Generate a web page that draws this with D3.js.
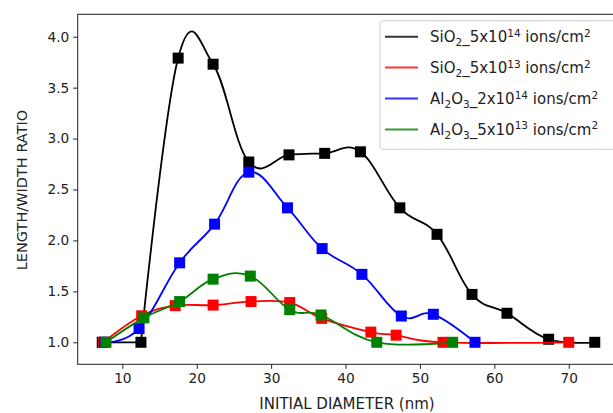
<!DOCTYPE html>
<html>
<head>
<meta charset="utf-8">
<script src="https://cdn.jsdelivr.net/npm/d3@7"></script>
<style>
  body { margin: 0; background: #fff; }
  svg { display: block; font-family: "DejaVu Sans", sans-serif; }
</style>
</head>
<body>
<svg id="chart"></svg>
<script>
//////////////// Daten ////////////////////
const blackX = [7.3, 12.5, 17.5, 22.2, 27.0, 32.4, 37.2, 42.0, 47.3, 52.3, 57.0, 61.7, 67.3, 73.5];
const blackY = [1.0, 1.0, 3.79, 3.73, 2.77, 2.84, 2.855, 2.87, 2.32, 2.06, 1.47, 1.285, 1.03, 1.0];

const redX = [7.45, 12.6, 17.1, 22.2, 27.3, 32.5, 36.8, 43.4, 46.8, 53.1, 70.0];
const redY = [1.0, 1.26, 1.36, 1.365, 1.40, 1.39, 1.235, 1.10, 1.07, 1.0, 1.0];

const blueX = [7.6, 12.25, 17.7, 22.4, 27.0, 32.2, 36.85, 42.2, 47.5, 51.8, 57.4];
const blueY = [1.0, 1.135, 1.78, 2.16, 2.67, 2.32, 1.92, 1.667, 1.258, 1.275, 1.0];

const greenX = [7.8, 12.9, 17.7, 22.2, 27.2, 32.5, 36.7, 44.2, 54.4];
const greenY = [1.0, 1.24, 1.40, 1.62, 1.65, 1.32, 1.268, 1.0, 1.0];

const xTicks = [10, 20, 30, 40, 50, 60, 70];
const yTicks = [1.0, 1.5, 2.0, 2.5, 3.0, 3.5, 4.0];

// Legende: [text, 0 normal / -1 tief / 1 hoch]
const legendParts = [
  [["SiO", 0], ["2", -1], ["_5x10", 0], ["14", 1], [" ions/cm", 0], ["2", 1]],
  [["SiO", 0], ["2", -1], ["_5x10", 0], ["13", 1], [" ions/cm", 0], ["2", 1]],
  [["Al", 0], ["2", -1], ["O", 0], ["3", -1], ["_2x10", 0], ["14", 1], [" ions/cm", 0], ["2", 1]],
  [["Al", 0], ["2", -1], ["O", 0], ["3", -1], ["_5x10", 0], ["13", 1], [" ions/cm", 0], ["2", 1]]
];

// straightStart: erster Abschnitt gerade (schwarze Kurve)
const series = [
  {xs: blackX, ys: blackY, farbe: "#000000", straightStart: true},
  {xs: redX, ys: redY, farbe: "#ff0000"},
  {xs: blueX, ys: blueY, farbe: "#0000ff"},
  {xs: greenX, ys: greenY, farbe: "#008000"}
];

//////////////// Konstanten ////////////////////
const W = 613, H = 413;
const plot = {left: 77.7, top: 14.3, bottom: 364.3, right: 620.8};
const markerSize = 11;
const textColor = "#222";

const svg = d3.select("#chart").attr("width", W).attr("height", H);

////////////////// Scaling ////////////
const x = d3.scaleLinear().domain([4.0, 77.0]).range([plot.left, plot.right]);
const y = d3.scaleLinear().domain([0.784, 4.22]).range([plot.bottom, plot.top]);

////////////////// Achsen ////////////
svg.append("g")
  .attr("transform", "translate(0," + plot.bottom + ")")
  .call(d3.axisBottom(x).tickValues(xTicks).tickSize(4.5).tickPadding(4).tickFormat(d3.format("d")))
  .call(g => g.select(".domain").remove());
svg.append("g")
  .attr("transform", "translate(" + plot.left + ",0)")
  .call(d3.axisLeft(y).tickValues(yTicks).tickSize(4.5).tickPadding(4).tickFormat(d3.format(".1f")))
  .call(g => g.select(".domain").remove());

svg.selectAll(".tick text").attr("font-size", 13.7).attr("fill", textColor).attr("font-family", "DejaVu Sans");
svg.selectAll(".tick line").attr("stroke", textColor).attr("stroke-width", 1);

// Rahmen
svg.append("rect")
  .attr("x", plot.left).attr("y", plot.top)
  .attr("width", plot.right - plot.left).attr("height", plot.bottom - plot.top)
  .attr("fill", "none").attr("stroke", textColor).attr("stroke-width", 1);

// Beschriftungen
svg.append("text")
  .attr("x", 347).attr("y", 409)
  .attr("text-anchor", "middle").attr("font-size", 15).attr("fill", textColor)
  .text("INITIAL DIAMETER (nm)");
svg.append("text")
  .attr("transform", "translate(27,190) rotate(-90)")
  .attr("text-anchor", "middle").attr("font-size", 14.5).attr("fill", textColor)
  .text("LENGTH/WIDTH RATIO");

//////////////// Linien + Marker ///////////////
const linie = d3.line()
  .x(d => x(d[0])).y(d => y(d[1]))
  .curve(d3.curveCardinal.tension(-0.15));
const gerade = d3.line()
  .x(d => x(d[0])).y(d => y(d[1]));

const plotArea = svg.append("g");
series.forEach(function(s) {
  const pts = s.xs.map((v, i) => [v, s.ys[i]]);
  let kurve = pts;
  if (s.straightStart) {
    plotArea.append("path")
      .attr("d", gerade(pts.slice(0, 2)))
      .attr("fill", "none").attr("stroke", s.farbe).attr("stroke-width", 1.8);
    kurve = pts.slice(1);
  }
  plotArea.append("path")
    .attr("d", linie(kurve))
    .attr("fill", "none")
    .attr("stroke", s.farbe)
    .attr("stroke-width", 1.8);
  plotArea.selectAll(null)
    .data(pts)
    .enter()
    .append("rect")
    .attr("x", d => x(d[0]) - markerSize / 2)
    .attr("y", d => y(d[1]) - markerSize / 2)
    .attr("width", markerSize).attr("height", markerSize)
    .attr("fill", s.farbe);
});

//////////////// Legende ///////////////
const leg = svg.append("g");
leg.append("rect")
  .attr("x", 380).attr("y", 20.7).attr("width", 240).attr("height", 128.6)
  .attr("rx", 3)
  .attr("fill", "#fff").attr("fill-opacity", 0.8)
  .attr("stroke", "#ccc").attr("stroke-width", 1);

legendParts.forEach(function(parts, i) {
  const ly = 36.7 + i * 30.9;
  leg.append("line")
    .attr("x1", 385).attr("x2", 418).attr("y1", ly).attr("y2", ly)
    .attr("stroke", series[i].farbe).attr("stroke-width", 2).attr("stroke-opacity", 0.8);
  const t = leg.append("text")
    .attr("x", 430).attr("y", ly + 5.5)
    .attr("font-size", 15).attr("fill", textColor);
  let shift = 0;
  parts.forEach(function(p) {
    const target = p[1] === -1 ? 4 : (p[1] === 1 ? -5.5 : 0);
    t.append("tspan")
      .attr("dy", target - shift)
      .attr("font-size", p[1] === 0 ? 15 : 10.5)
      .text(p[0]);
    shift = target;
  });
});
</script>
</body>
</html>
